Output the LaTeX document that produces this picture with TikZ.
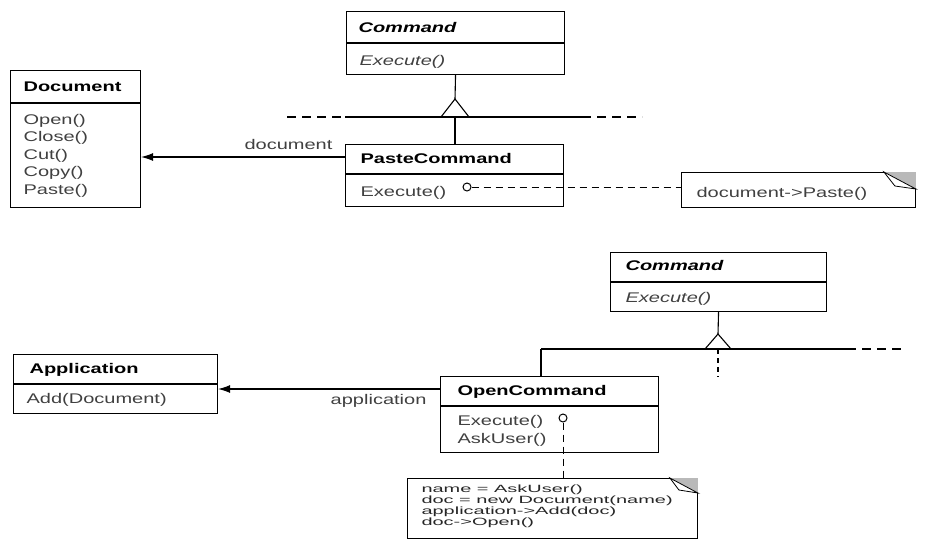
\documentclass[tikz,border=0pt]{standalone}
\usepackage{fontspec}
\setmainfont{Liberation Sans}[FakeStretch=1.43]
\newfontfamily\notefont{Liberation Sans}[FakeStretch=1.9]
\usetikzlibrary{arrows.meta,calc}

\begin{document}
\begin{tikzpicture}[
	x=1pt, y=-1pt,
	line width=1.1pt,
	classbox/.style={
		draw, rectangle,
		anchor=north west,
		inner sep=0pt
	},
	title/.style={
		anchor=base west, inner sep=0pt,
		font=\fontsize{14}{17}\selectfont\bfseries
	},
	op/.style={
		anchor=base west, inner sep=0pt,
		text=black!75,
		font=\fontsize{14}{17}\selectfont
	},
	noteline/.style={
		anchor=base west, inner sep=0pt,
		text=black!85,
		font=\notefont\fontsize{10.5}{11}\selectfont
	},
	notebox/.style={
		draw, rectangle,
		anchor=north west,
		inner sep=0pt,
		line width=0.9pt
	},
	pindot/.style={
		draw, circle, fill=white,
		inner sep=0pt, minimum size=8pt,
		line width=1pt
	},
	assoc/.style={-{Latex[length=12pt,width=8pt]}},
	link/.style={dash pattern=on 7pt off 5pt, line width=0.8pt},
	extend/.style={dash pattern=on 9pt off 6pt}
	]
	\useasboundingbox (0,0) rectangle (926,552);
	
	% --- upper diagram ---
	\node[classbox, minimum width=130pt, minimum height=137pt] (doc)   at (10,70)  {};
	\node[classbox, minimum width=218pt, minimum height=63pt]  (cmdA)  at (346,11) {};
	\node[classbox, minimum width=218pt, minimum height=62pt]  (paste) at (345,144) {};
	\node[notebox,  minimum width=234pt, minimum height=35pt]  (pnote) at (681,172) {};
	
	\draw (doc.west |- 0,103)   -- (doc.east |- 0,103);
	\draw (cmdA.west |- 0,43)   -- (cmdA.east |- 0,43);
	\draw (paste.west |- 0,174) -- (paste.east |- 0,174);
	
	\node[title] (docT) at (23,91) {Document};
	\foreach \op [count=\i] in {Open(),Close(),Cut(),Copy(),Paste()}
		\node[op] (docop\i) at (23,{106.5+17.5*\i}) {\op};
	
	\node[title] (cmdAT) at (358,32) {\itshape Command};
	\node[op]    (cmdAop) at (359,65) {\itshape Execute()};
	
	\node[title] (pasteT) at (360,163) {PasteCommand};
	\node[op]    (pasteop) at (360,196) {Execute()};
	\node[pindot] (pasteX) at (467,187) {};
	
	\node[op] (pnoteT) at (696,197) {document->Paste()};
	\fill[gray!55] ($(pnote.north east)+(-32,0)$) -- (pnote.north east) -- ($(pnote.north east)+(0,17)$) -- cycle;
	\draw[line width=0.8pt, fill=white] ($(pnote.north east)+(-32,0)$) -- ($(pnote.north east)+(-21,14)$) -- ($(pnote.north east)+(0,17)$) -- cycle;
	
	% generalization
	\coordinate (genA) at (455,117);
	\draw (cmdA.south) -- (455,99);
	\draw (441,117) -- (455,99) -- (469,117);
	\draw (345,117) -- (582,117);
	\draw[extend] (287,117) -- (345,117);
	\draw[extend] (582,117) -- (642,117);
	\draw (genA) -- (genA |- paste.north);
	
	\draw[assoc] (paste.west |- 0,157) -- (doc.east |- 0,157);
	\node[op, anchor=base east] (docL) at (333,149) {document};
	\draw[link] (pasteX) -- (pasteX -| pnote.west);
	
	% --- lower diagram ---
	\node[classbox, minimum width=204pt, minimum height=59pt] (app)  at (13,354)  {};
	\node[classbox, minimum width=216pt, minimum height=59pt] (cmdB) at (610,252) {};
	\node[classbox, minimum width=218pt, minimum height=76pt] (open) at (440,376) {};
	\node[notebox,  minimum width=290pt, minimum height=60pt] (onote) at (407,478) {};
	
	\draw (app.west |- 0,384)  -- (app.east |- 0,384);
	\draw (cmdB.west |- 0,282) -- (cmdB.east |- 0,282);
	\draw (open.west |- 0,406) -- (open.east |- 0,406);
	
	\node[title] (appT) at (29,373) {Application};
	\node[op]    (appop) at (26,403) {Add(Document)};
	
	\node[title] (cmdBT) at (625,270) {\itshape Command};
	\node[op]    (cmdBop) at (625,302) {\itshape Execute()};
	
	\node[title] (openT) at (457,395) {OpenCommand};
	\node[op]    (openop1) at (457,425) {Execute()};
	\node[op]    (openop2) at (457,443) {AskUser()};
	\node[pindot] (openX) at (563,418) {};
	
	\foreach \ln [count=\i] in {name = AskUser(),doc = new Document(name),application->Add(doc),doc->Open()}
		\node[noteline] (onote\i) at (421,{481+11*\i}) {\ln};
	\fill[gray!55] ($(onote.north east)+(-28,0)$) -- (onote.north east) -- ($(onote.north east)+(0,15)$) -- cycle;
	\draw[line width=0.8pt, fill=white] ($(onote.north east)+(-28,0)$) -- ($(onote.north east)+(-19,12)$) -- ($(onote.north east)+(0,15)$) -- cycle;
	
	% generalization
	\coordinate (genB) at (541,349);
	\draw (cmdB.south) -- (718,334);
	\draw (705,349) -- (718,334) -- (731,349);
	\draw (genB) -- (847,349);
	\draw[extend] (847,349) -- (903,349);
	\draw[dash pattern=on 5pt off 4pt] (718,349) -- (718,377);
	\draw (genB) -- (genB |- open.north);
	
	\draw[assoc] (open.west |- 0,389) -- (app.east |- 0,389);
	\node[op, anchor=base east] (appL) at (427,404) {application};
	\draw[link] (openX) -- (openX |- onote.north);
	
\end{tikzpicture}
\end{document}
